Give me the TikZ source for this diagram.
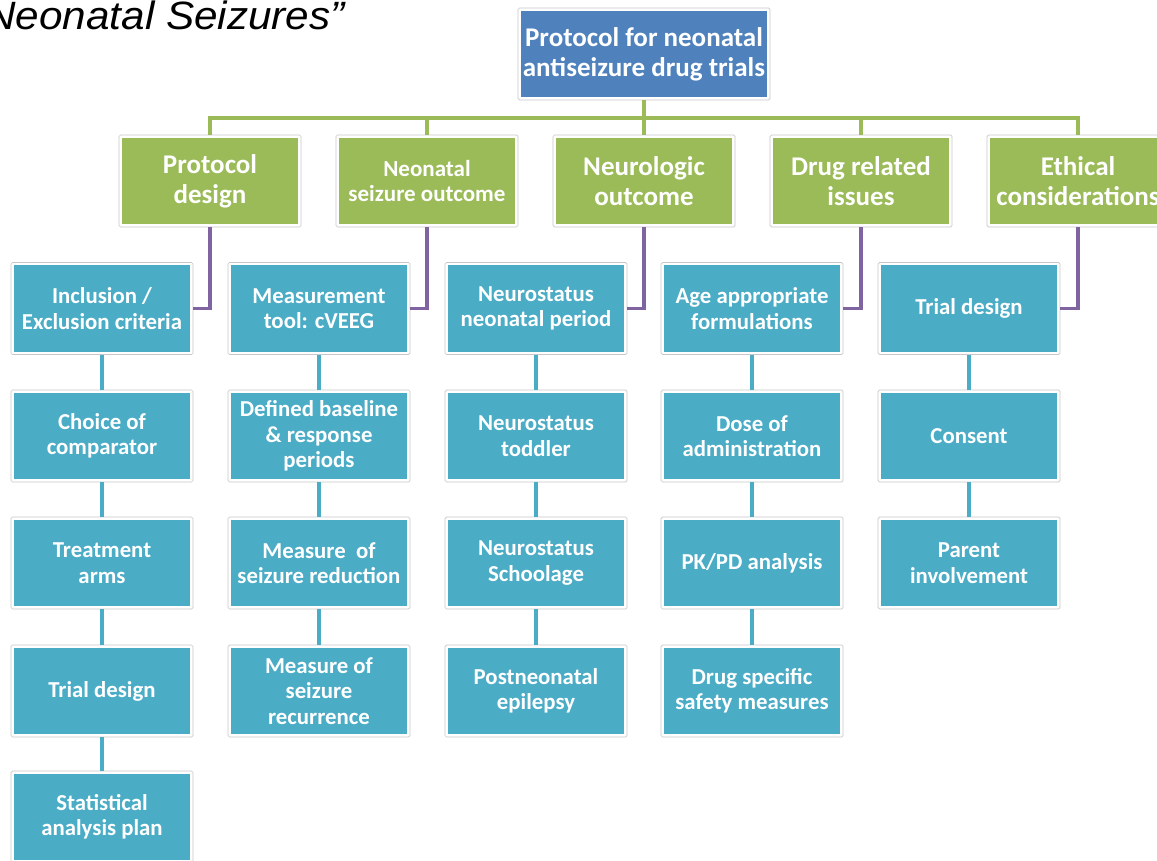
\documentclass[tikz,border=0pt]{standalone}
\usepackage{fontspec}
\setmainfont{Carlito}
\newfontfamily\arialfont{Liberation Sans}
\definecolor{topc}{HTML}{4F81BD}
\definecolor{grc}{HTML}{9BBB59}
\definecolor{blc}{HTML}{4BACC6}
\definecolor{puc}{HTML}{8064A2}
\tikzset{
  box/.style={draw=black!22, line width=0.7pt, fill=white, rounded corners=1.5pt,
    minimum width=182pt, minimum height=92pt, inner sep=0pt, text=white,
    font=\bfseries\fontsize{22.8}{25.5}\selectfont, align=center,
    path picture={\fill[#1, sharp corners] ([shift={(3pt,-3pt)}]path picture bounding box.north west) rectangle ([shift={(-3pt,3pt)}]path picture bounding box.south east);}},
  topbox/.style={box=topc, minimum width=252pt, font=\bfseries\fontsize{27}{30}\selectfont},
  grbox/.style={box=grc, font=\bfseries\fontsize{27}{30}\selectfont},
  blbox/.style={box=blc},
  grline/.style={draw=grc, line width=3.5pt},
  puline/.style={draw=puc, line width=3.5pt},
  blline/.style={draw=blc, line width=4pt},
}
\begin{document}
\begin{tikzpicture}[x=1pt,y=-1pt]
\useasboundingbox (0,0) rectangle (1157,861);
\node[anchor=base east, font=\arialfont\itshape\fontsize{39.5}{44}\selectfont, inner sep=0pt, xscale=1.07] (title) at (345,30) {Neonatal Seizures”};

\node[topbox] (top) at (644,54) {Protocol for neonatal\\antiseizure drug trials};

\node[grbox] (g1) at (210,181) {Protocol\\design};
\node[grbox, font=\bfseries\fontsize{23}{25}\selectfont] (g2) at (427,181) {Neonatal\\seizure outcome};
\node[grbox] (g3) at (644,181) {Neurologic\\outcome};
\node[grbox] (g4) at (861,181) {Drug related\\issues};
\node[grbox] (g5) at (1078,181) {Ethical\\considerations};

\coordinate (hub) at (644,118);
\draw[grline] (top.south) -- (hub);
\foreach \g in {g1,g2,g3,g4,g5} \draw[grline] (hub) -| (\g.north);

% column 1
\node[blbox] (a1) at (102,308.5) {Inclusion /\\Exclusion criteria};
\node[blbox] (a2) at (102,436) {Choice of\\comparator};
\node[blbox] (a3) at (102,563) {Treatment\\arms};
\node[blbox] (a4) at (102,691) {Trial design};
\node[blbox] (a5) at (102,817) {Statistical\\analysis plan};
% column 2
\node[blbox] (b1) at (319,308.5) {Measurement\\tool: cVEEG};
\node[blbox] (b2) at (319,436) {Defined baseline\\\& response\\periods};
\node[blbox] (b3) at (319,563) {Measure~ of\\seizure reduction};
\node[blbox] (b4) at (319,691) {Measure of\\seizure\\recurrence};
% column 3
\node[blbox] (c1) at (536,308.5) {Neurostatus\\neonatal period};
\node[blbox] (c2) at (536,436) {Neurostatus\\toddler};
\node[blbox] (c3) at (536,563) {Neurostatus\\Schoolage};
\node[blbox] (c4) at (536,691) {Postneonatal\\epilepsy};
% column 4
\node[blbox] (d1) at (752,308.5) {Age appropriate\\formulations};
\node[blbox] (d2) at (752,436) {Dose of\\administration};
\node[blbox] (d3) at (752,563) {PK/PD analysis};
\node[blbox] (d4) at (752,691) {Drug specific\\safety measures};
% column 5
\node[blbox] (e1) at (969,308.5) {Trial design};
\node[blbox] (e2) at (969,436) {Consent};
\node[blbox] (e3) at (969,563) {Parent\\involvement};

\draw[puline] (g1.south) |- (a1.east);
\draw[puline] (g2.south) |- (b1.east);
\draw[puline] (g3.south) |- (c1.east);
\draw[puline] (g4.south) |- (d1.east);
\draw[puline] (g5.south) |- (e1.east);

\draw[blline] (a1) -- (a2) (a2) -- (a3) (a3) -- (a4) (a4) -- (a5);
\draw[blline] (b1) -- (b2) (b2) -- (b3) (b3) -- (b4);
\draw[blline] (c1) -- (c2) (c2) -- (c3) (c3) -- (c4);
\draw[blline] (d1) -- (d2) (d2) -- (d3) (d3) -- (d4);
\draw[blline] (e1) -- (e2) (e2) -- (e3);
\end{tikzpicture}
\end{document}
